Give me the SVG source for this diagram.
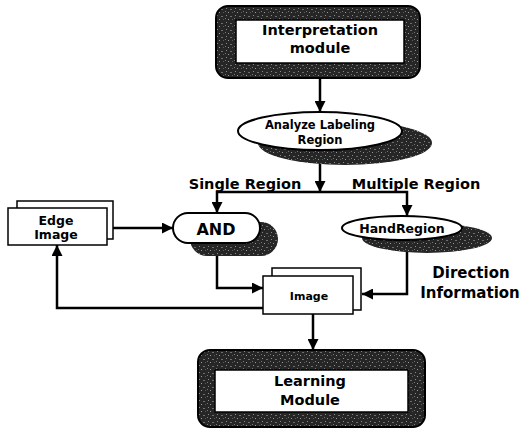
<svg xmlns="http://www.w3.org/2000/svg" width="522" height="429" viewBox="0 0 522 429">
  <defs>
    <pattern id="grain" width="9" height="7" patternUnits="userSpaceOnUse">
      <rect width="9" height="7" fill="#262626"/>
      <rect x="1" y="1" width="1" height="1" fill="#8a8a8a"/>
      <rect x="5" y="2" width="2" height="1" fill="#6e6e6e"/>
      <rect x="3" y="5" width="1" height="1" fill="#9a9a9a"/>
      <rect x="7" y="5" width="1" height="1" fill="#5a5a5a"/>
      <rect x="0" y="4" width="1" height="1" fill="#777"/>
    </pattern>
    <marker id="arrow" viewBox="0 0 10 10" refX="10" refY="5" markerWidth="12" markerHeight="11" markerUnits="userSpaceOnUse" orient="auto">
      <path d="M0,0 L10,5 L0,10 z" fill="#000"/>
    </marker>
  </defs>
  <style>
    text { font-family: "DejaVu Sans", "Liberation Sans", sans-serif; font-weight: bold; fill: #000; text-anchor: middle; }
    .frame { fill: url(#grain); stroke: #000; stroke-width: 2; }
    .inner { fill: #fff; stroke: #000; stroke-width: 1.5; }
    .shape { fill: #fff; stroke: #000; stroke-width: 2; }
    .shadow { fill: url(#grain); stroke: none; }
    .page { fill: #fff; stroke: #000; stroke-width: 1.5; }
    .conn { fill: none; stroke: #000; stroke-width: 2.5; }
  </style>

  <rect width="522" height="429" fill="#fff"/>

  <!-- connectors -->
  <g id="connectors">
    <path class="conn" d="M320,78 V112" marker-end="url(#arrow)"/>
    <path class="conn" d="M320,150 V192" marker-end="url(#arrow)"/>
    <path class="conn" d="M320,192 H217 V213" marker-end="url(#arrow)"/>
    <path class="conn" d="M320,192 H407 V216" marker-end="url(#arrow)"/>
    <path class="conn" d="M108,228 H173" marker-end="url(#arrow)"/>
    <path class="conn" d="M217,243 V288 H263" marker-end="url(#arrow)"/>
    <path class="conn" d="M407,240 V294 H362" marker-end="url(#arrow)"/>
    <path class="conn" d="M313,314 V350" marker-end="url(#arrow)"/>
    <path class="conn" d="M263,308 H57 V245" marker-end="url(#arrow)"/>
  </g>

  <!-- Interpretation module -->
  <g id="interpretation">
    <rect class="frame" x="216" y="6" width="204" height="72" rx="12"/>
    <rect class="inner" x="236" y="20" width="168" height="43"/>
    <text x="320" y="35" font-size="14.5">Interpretation</text>
    <text x="320" y="53" font-size="14.5">module</text>
  </g>

  <!-- Analyze Labeling Region -->
  <g id="analyze">
    <ellipse class="shadow" cx="345" cy="143" rx="87" ry="22"/>
    <ellipse class="shape" cx="320" cy="131" rx="82" ry="19"/>
    <text x="320" y="129" font-size="11.5">Analyze Labeling</text>
    <text x="320" y="144" font-size="11.5">Region</text>
  </g>

  <!-- branch labels -->
  <g id="branch-labels">
    <text x="245" y="189" font-size="14.5">Single Region</text>
    <text x="416" y="189" font-size="14.5">Multiple Region</text>
  </g>

  <!-- Edge Image -->
  <g id="edge-image">
    <rect class="page" x="17" y="201" width="96" height="38"/>
    <rect class="page" x="8" y="208" width="99" height="37"/>
    <text x="56" y="225" font-size="12.5">Edge</text>
    <text x="56" y="239" font-size="12.5">Image</text>
  </g>

  <!-- AND -->
  <g id="and">
    <rect class="shadow" x="190" y="222" width="88" height="34" rx="17"/>
    <rect class="shape" x="173" y="213" width="87" height="30" rx="15"/>
    <text x="216" y="235" font-size="16">AND</text>
  </g>

  <!-- HandRegion -->
  <g id="handregion">
    <ellipse class="shadow" cx="427" cy="238" rx="65" ry="15"/>
    <ellipse class="shape" cx="402" cy="228" rx="60" ry="12"/>
    <text x="402" y="233" font-size="12.5">HandRegion</text>
  </g>

  <!-- Image -->
  <g id="image">
    <rect class="page" x="272" y="268" width="89" height="42"/>
    <rect class="page" x="263" y="276" width="90" height="38"/>
    <text x="309" y="300" font-size="11">Image</text>
  </g>

  <!-- Direction Information -->
  <g id="direction-label">
    <text x="471" y="278" font-size="15">Direction</text>
    <text x="470" y="298" font-size="15">Information</text>
  </g>

  <!-- Learning Module -->
  <g id="learning">
    <rect class="frame" x="198" y="350" width="227" height="77" rx="12"/>
    <rect class="inner" x="215" y="370" width="193" height="42"/>
    <text x="310" y="386" font-size="14.5">Learning</text>
    <text x="310" y="405" font-size="14.5">Module</text>
  </g>
</svg>
